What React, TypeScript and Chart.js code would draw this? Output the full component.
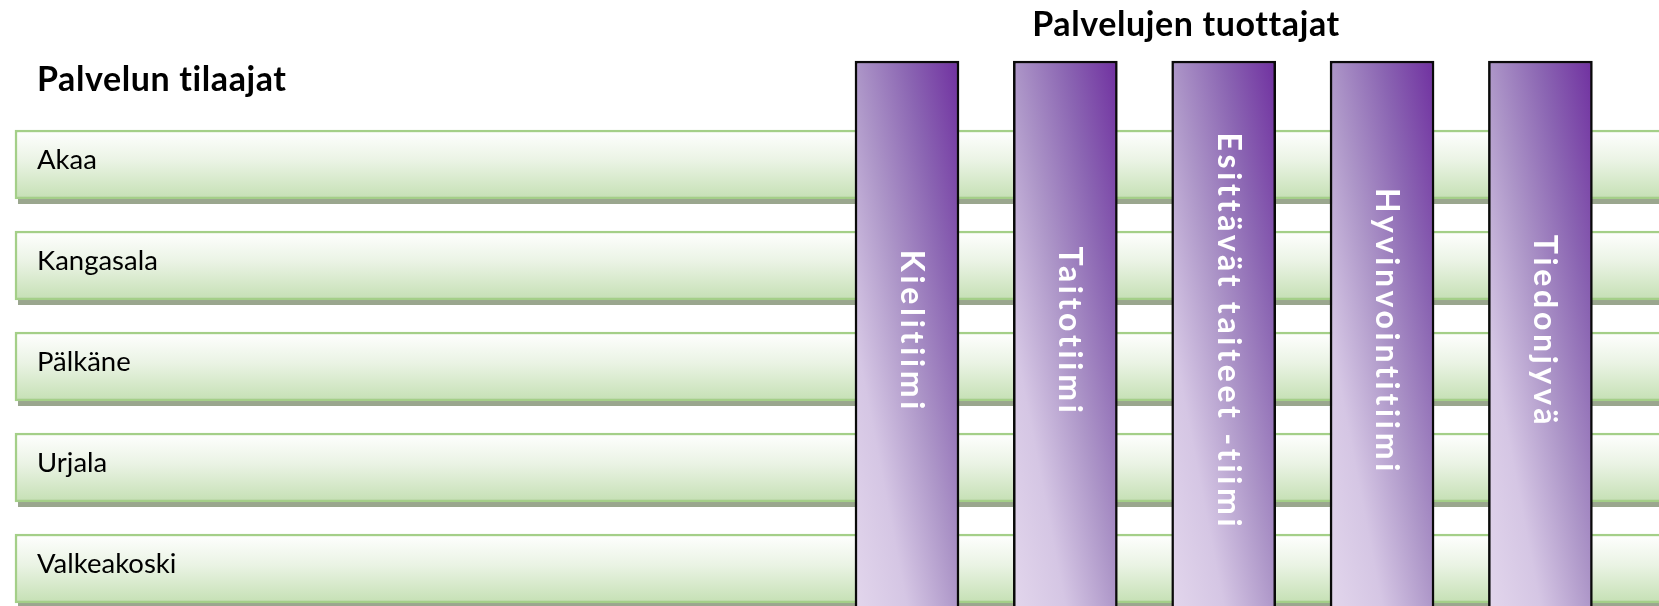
import React, { useEffect, useRef } from "react";
import { Chart, registerables } from "chart.js";

Chart.register(...registerables);

// ---- content ----
const leftTitle = "Palvelun tilaajat";
const topTitle = "Palvelujen tuottajat";
const subscribers = ["Akaa", "Kangasala", "Pälkäne", "Urjala", "Valkeakoski"];
const producers = [
  "Kielitiimi",
  "Taitotiimi",
  "Esittävät taiteet -tiimi",
  "Hyvinvointitiimi",
  "Tiedonjyvä",
];
// each band covers 0..100 % of its span
const subscriberSpans = [
  [0, 100],
  [0, 100],
  [0, 100],
  [0, 100],
  [0, 100],
];
const producerSpans = [
  [0, 100],
  [0, 100],
  [0, 100],
  [0, 100],
  [0, 100],
];

const FONT = "Lato, 'Open Sans', 'DejaVu Sans', sans-serif";
const ROW_THICK = 69;
const COL_THICK = 104;

const ok = (...v: number[]) => v.every((n) => Number.isFinite(n));

function rowFill(c: any) {
  const chart = c.chart;
  const ys = chart.scales && chart.scales.yRow;
  if (!chart.chartArea || !ys || c.dataIndex === undefined) return "#dcecd2";
  const cy = ys.getPixelForValue(c.dataIndex);
  if (!ok(cy)) return "#dcecd2";
  const g = chart.ctx.createLinearGradient(0, cy - ROW_THICK / 2, 0, cy + ROW_THICK / 2);
  g.addColorStop(0, "#ffffff");
  g.addColorStop(0.45, "#eaf3e4");
  g.addColorStop(1, "#c5e0b4");
  return g;
}

function colFill(c: any) {
  const chart = c.chart;
  const xs = chart.scales && chart.scales.xCol;
  const ys = chart.scales && chart.scales.yColVal;
  if (!chart.chartArea || !xs || !ys || c.dataIndex === undefined) return "#9a7bbf";
  const span = producerSpans[c.dataIndex];
  const cx = xs.getPixelForValue(c.dataIndex);
  const top = ys.getPixelForValue(span[1]);
  const bot = ys.getPixelForValue(span[0]);
  if (!ok(cx, top, bot) || bot - top <= 0) return "#9a7bbf";
  const w = COL_THICK;
  const h = bot - top;
  const n = Math.hypot(w, h);
  const k = (w * h) / n;
  const ux = h / n;
  const uy = -w / n;
  const cy = (top + bot) / 2;
  const g = chart.ctx.createLinearGradient(cx - k * ux, cy - k * uy, cx + k * ux, cy + k * uy);
  g.addColorStop(0, "#e2d6ec");
  g.addColorStop(0.25, "#d5c6e4");
  g.addColorStop(0.5, "#ad96c8");
  g.addColorStop(0.75, "#8a64b2");
  g.addColorStop(1, "#7030a0");
  return g;
}

const decorPlugin = {
  id: "decor",
  beforeDatasetsDraw(chart: any) {
    const ctx = chart.ctx;
    const meta = chart.getDatasetMeta(1);
    ctx.save();
    ctx.fillStyle = "#9aa68e";
    meta.data.forEach((el: any) => {
      const { x, y, base, height } = el.getProps(["x", "y", "base", "height"], true);
      const left = Math.min(x, base);
      const right = Math.max(x, base);
      ctx.fillRect(left + 3, y - height / 2 + 5, right - left, height);
    });
    ctx.restore();
  },
  afterDatasetsDraw(chart: any) {
    const ctx = chart.ctx;
    // subscriber labels
    const rowMeta = chart.getDatasetMeta(1);
    ctx.save();
    ctx.font = `27.5px ${FONT}`;
    ctx.fillStyle = "#000000";
    ctx.textAlign = "left";
    ctx.textBaseline = "alphabetic";
    rowMeta.data.forEach((el: any, i: number) => {
      const { x, base, y } = el.getProps(["x", "base", "y"], true);
      ctx.fillText(subscribers[i], Math.min(base, x) + 22, y + 4.5);
    });
    ctx.restore();

    // producer labels (vertical)
    const colMeta = chart.getDatasetMeta(0);
    ctx.save();
    ctx.font = `bold 32px ${FONT}`;
    (ctx as any).letterSpacing = "3.7px";
    ctx.fillStyle = "#ffffff";
    ctx.textAlign = "center";
    ctx.textBaseline = "alphabetic";
    colMeta.data.forEach((el: any, i: number) => {
      const { x, y, base } = el.getProps(["x", "y", "base"], true);
      const midY = (y + base) / 2;
      ctx.save();
      ctx.translate(x - 6, midY - 2);
      ctx.rotate(Math.PI / 2);
      ctx.fillText(producers[i], 0, 0);
      ctx.restore();
    });
    ctx.restore();
  },
  afterDraw(chart: any) {
    const ctx = chart.ctx;
    ctx.save();
    ctx.fillStyle = "#000000";
    ctx.font = `bold 34px ${FONT}`;
    (ctx as any).letterSpacing = "0.6px";
    ctx.textBaseline = "alphabetic";
    ctx.textAlign = "left";
    ctx.fillText(leftTitle, 37, 91);
    ctx.textAlign = "center";
    ctx.fillText(topTitle, 1186, 36);
    ctx.restore();
  },
};

export default function App() {
  const ref = useRef<HTMLCanvasElement | null>(null);

  useEffect(() => {
    document.body.style.margin = "0";
    document.body.style.overflow = "hidden";
    const canvas = ref.current;
    if (!canvas) return;
    const chart = new Chart(canvas, {
      type: "bar",
      data: {
        datasets: [
          {
            label: topTitle,
            indexAxis: "x",
            xAxisID: "xCol",
            yAxisID: "yColVal",
            order: 1,
            grouped: false,
            data: producers.map((_, i) => ({ x: i, y: producerSpans[i] })),
            backgroundColor: colFill,
            borderColor: "#0a0a0a",
            borderWidth: 2.5,
            borderSkipped: "start",
            barThickness: COL_THICK,
          } as any,
          {
            label: leftTitle,
            indexAxis: "y",
            xAxisID: "xRowVal",
            yAxisID: "yRow",
            order: 2,
            grouped: false,
            data: subscribers.map((_, i) => ({ x: subscriberSpans[i], y: i })),
            backgroundColor: rowFill,
            borderColor: "#a4cf88",
            borderWidth: 2.5,
            borderSkipped: false,
            barThickness: ROW_THICK,
          } as any,
        ],
      },
      options: {
        responsive: false,
        animation: false,
        events: [],
        layout: { padding: 0 },
        plugins: {
          legend: { display: false },
          title: { display: false },
          tooltip: { enabled: false },
        },
        scales: {
          xRowVal: { type: "linear", axis: "x", display: false, offset: false, min: -0.904, max: 99.096 },
          yRow: { type: "linear", axis: "y", display: false, offset: false, reverse: true, min: -1.6287, max: 4.3713 },
          xCol: { type: "linear", axis: "x", display: false, offset: false, min: -5.7278, max: 4.749 },
          yColVal: { type: "linear", axis: "y", display: false, offset: false, min: 0, max: 111.19 },
        },
      } as any,
      plugins: [decorPlugin as any],
    });
    return () => chart.destroy();
  }, []);

  return (
    <canvas
      ref={ref}
      width={1659}
      height={606}
      style={{ position: "fixed", left: 0, top: 0, display: "block", width: 1659, height: 606 }}
    />
  );
}
